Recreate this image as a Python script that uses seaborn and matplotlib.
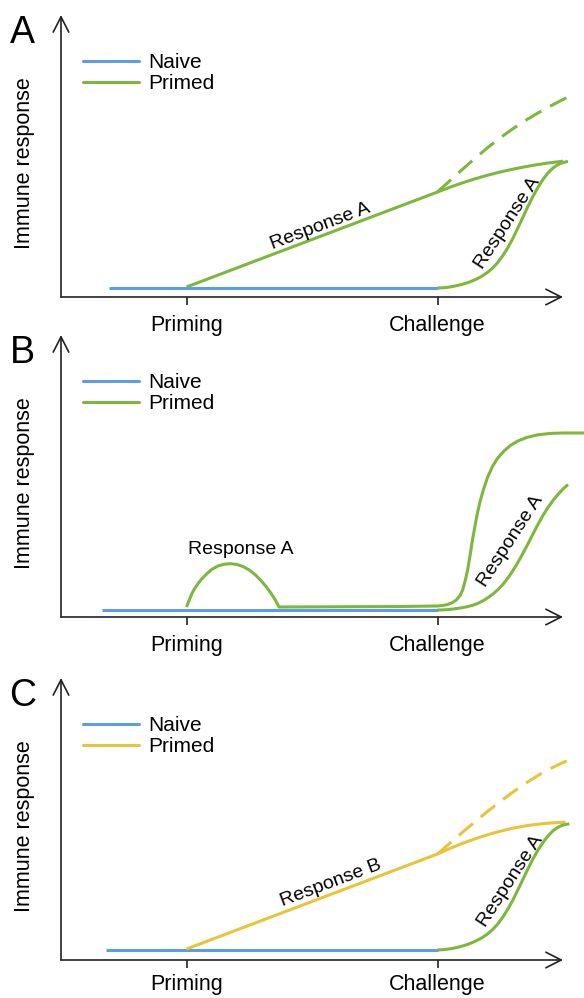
"""
Esquema de resposta imune: Naive vs Primed (paineis A, B, C)
"""

import numpy as np
import pandas as pd
import matplotlib
matplotlib.use("Agg")
import matplotlib.pyplot as plt
import seaborn as sns
from matplotlib.lines import Line2D

# ---- dados (x: 0 = eixo, 1 = Priming, 3 = Challenge) ----
tick_pos = [1, 3]
tick_labels = ["Priming", "Challenge"]
panel_letters = ["A", "B", "C"]
legend_labels = ["Naive", "Primed"]

# Painel A
a_naive_x = [0.38, 3.0]
a_naive_y = [0.09, 0.09]
a_primed_x = [1.0, 3.0, 3.1, 3.2, 3.3, 3.4, 3.5, 3.6, 3.7, 3.8, 3.9, 4.0]
a_primed_y = [0.10, 1.05, 1.098, 1.142, 1.182, 1.218, 1.250, 1.278, 1.303,
              1.325, 1.343, 1.358]
a_dash_x = [3.0, 3.1, 3.2, 3.3, 3.4, 3.5, 3.6, 3.7, 3.8, 3.9, 4.0, 4.04]
a_dash_y = [1.05, 1.165, 1.278, 1.388, 1.494, 1.592, 1.682, 1.765, 1.840,
            1.910, 1.975, 2.0]
a_resp_x = [3.00, 3.04, 3.08, 3.12, 3.16, 3.20, 3.24, 3.28, 3.32, 3.36,
            3.40, 3.44, 3.48, 3.52, 3.56, 3.60, 3.64, 3.68, 3.72, 3.76,
            3.80, 3.84, 3.88, 3.92, 3.96, 4.00, 4.04]
a_resp_y = [0.090, 0.092, 0.097, 0.105, 0.116, 0.128, 0.143, 0.162, 0.185,
            0.213, 0.248, 0.290, 0.345, 0.412, 0.492, 0.585, 0.690, 0.795,
            0.905, 1.005, 1.095, 1.175, 1.240, 1.290, 1.325, 1.345, 1.355]

# Painel B
b_naive_x = [0.33, 3.0]
b_naive_y = [0.075, 0.075]
b_primed_x = [1.000, 1.020, 1.040, 1.060, 1.090, 1.120, 1.160, 1.200, 1.250,
              1.300, 1.350, 1.400, 1.450, 1.500, 1.550, 1.600, 1.640, 1.680,
              1.710, 1.737, 2.70, 3.00, 3.04, 3.08, 3.12, 3.15, 3.18, 3.20,
              3.22, 3.24, 3.26, 3.28, 3.30, 3.32, 3.34, 3.37, 3.40, 3.44,
              3.48, 3.53, 3.58, 3.64, 3.71, 3.80, 3.90, 4.00, 4.17]
b_primed_y = [0.100, 0.165, 0.225, 0.275, 0.330, 0.380, 0.430, 0.475, 0.510,
              0.528, 0.533, 0.525, 0.505, 0.470, 0.420, 0.355, 0.295, 0.225,
              0.165, 0.100, 0.105, 0.110, 0.115, 0.125, 0.145, 0.170, 0.215,
              0.270, 0.360, 0.470, 0.620, 0.780, 0.920, 1.050, 1.160, 1.290,
              1.400, 1.510, 1.590, 1.660, 1.715, 1.760, 1.795, 1.822, 1.836,
              1.840, 1.840]
b_resp_x = [3.00, 3.04, 3.08, 3.12, 3.16, 3.20, 3.24, 3.28, 3.32, 3.36,
            3.40, 3.44, 3.48, 3.52, 3.56, 3.60, 3.64, 3.68, 3.72, 3.76,
            3.80, 3.84, 3.88, 3.92, 3.96, 4.00, 4.04]
b_resp_y = [0.070, 0.071, 0.074, 0.079, 0.086, 0.094, 0.104, 0.117, 0.135,
            0.160, 0.192, 0.228, 0.272, 0.324, 0.388, 0.462, 0.545, 0.635,
            0.730, 0.828, 0.925, 1.015, 1.095, 1.165, 1.225, 1.280, 1.325]

# Painel C
c_naive_x = [0.36, 3.0]
c_naive_y = [0.10, 0.10]
c_primed_x = [1.0, 3.0, 3.1, 3.2, 3.3, 3.4, 3.5, 3.6, 3.7, 3.8, 3.9, 4.02]
c_primed_y = [0.11, 1.06, 1.116, 1.167, 1.212, 1.253, 1.288, 1.318, 1.341,
              1.358, 1.370, 1.378]
c_dash_x = [3.0, 3.1, 3.2, 3.3, 3.4, 3.5, 3.6, 3.7, 3.8, 3.9, 4.0, 4.03]
c_dash_y = [1.06, 1.170, 1.278, 1.384, 1.487, 1.585, 1.678, 1.765, 1.845,
            1.915, 1.975, 1.99]
c_resp_x = [3.00, 3.04, 3.08, 3.12, 3.16, 3.20, 3.24, 3.28, 3.32, 3.36,
            3.40, 3.44, 3.48, 3.52, 3.56, 3.60, 3.64, 3.68, 3.72, 3.76,
            3.80, 3.84, 3.88, 3.92, 3.96, 4.00, 4.05]
c_resp_y = [0.100, 0.103, 0.108, 0.116, 0.127, 0.140, 0.156, 0.176, 0.199,
            0.227, 0.262, 0.305, 0.360, 0.428, 0.508, 0.598, 0.700, 0.805,
            0.910, 1.010, 1.098, 1.175, 1.240, 1.292, 1.328, 1.350, 1.362]

# ---- estilo ----
BLUE = "#5a9fe4"
GREEN = "#7cb83c"
YELLOW = "#e8c43a"
AXIS = "#222222"
LW = 2.2
DASH = (0, (6, 3.3))

sns.set_style("white")
plt.rcParams["font.family"] = ["Liberation Sans", "DejaVu Sans"]
plt.rcParams["text.color"] = "black"
plt.rcParams["axes.labelcolor"] = "black"

W, H = 584, 998
PX_X = 125.5   # pixels por unidade x
axis_px = [297, 617, 960]
tick_pad = [7, 7, 4]


def draw_curve(ax, xs, ys, color, ls="-"):
    df = pd.DataFrame({"x": xs, "y": ys})
    sns.lineplot(data=df, x="x", y="y", ax=ax, color=color, lw=LW,
                 linestyle=ls, estimator=None, sort=False,
                 solid_capstyle="butt", solid_joinstyle="round")


def setup_axes(ax, letter, primed_color, pad):
    ax.set_xlim(0, 523 / PX_X)
    ax.set_ylim(0, 2.9)
    ax.set_facecolor("none")
    for s in ax.spines.values():
        s.set_visible(False)
    ax.set_xticks(tick_pos)
    ax.set_xticklabels(tick_labels)
    ax.set_yticks([])
    ax.tick_params(axis="x", length=6, width=1.2, color=AXIS, pad=pad,
                   labelsize=15.5, labelcolor="black", bottom=True)
    ax.set_xlabel("")
    ax.set_ylabel("Immune response", fontsize=15.5, va="center")
    ax.yaxis.set_label_coords(-0.07, 0.46)

    arrow = dict(arrowstyle="->,head_length=0.55,head_width=0.28", lw=1.2,
                 color=AXIS, shrinkA=0, shrinkB=0, mutation_scale=20)
    ax.annotate("", xy=(0, 2.82), xytext=(0, 0), arrowprops=arrow)
    ax.annotate("", xy=(4.0, 0), xytext=(0, 0), arrowprops=arrow)

    ax.text(-0.073, 0.91, letter, transform=ax.transAxes, fontsize=27,
            ha="center", va="center")

    handles = [Line2D([], [], color=BLUE, lw=LW),
               Line2D([], [], color=primed_color, lw=LW)]
    ax.legend(handles, legend_labels, loc="upper left",
              bbox_to_anchor=(0.042, 0.84), frameon=False, fontsize=15,
              handlelength=2.67, handletextpad=0.48, labelspacing=0.1,
              borderpad=0, borderaxespad=0, labelcolor="black")


fig = plt.figure(figsize=(W / 100, H / 100), dpi=100)
axes = []
for i in range(3):
    bottom = 1 - axis_px[i] / H
    axes.append(fig.add_axes([61 / W, bottom, 523 / W, 290 / H]))

# Painel A
ax = axes[0]
draw_curve(ax, a_naive_x, a_naive_y, BLUE)
draw_curve(ax, a_primed_x, a_primed_y, GREEN)
draw_curve(ax, a_dash_x, a_dash_y, GREEN, DASH)
draw_curve(ax, a_resp_x, a_resp_y, GREEN)
setup_axes(ax, "A", GREEN, tick_pad[0])
ax.text(2.07, 0.71, "Response A", rotation=20.7, rotation_mode="anchor",
        ha="center", va="center", fontsize=14)
ax.text(3.56, 0.74, "Response A", rotation=57, rotation_mode="anchor",
        ha="center", va="center", fontsize=14)

# Painel B
ax = axes[1]
draw_curve(ax, b_naive_x, b_naive_y, BLUE)
draw_curve(ax, b_primed_x, b_primed_y, GREEN)
draw_curve(ax, b_resp_x, b_resp_y, GREEN)
setup_axes(ax, "B", GREEN, tick_pad[1])
ax.text(1.43, 0.67, "Response A", ha="center", va="center", fontsize=14)
ax.text(3.58, 0.76, "Response A", rotation=57, rotation_mode="anchor",
        ha="center", va="center", fontsize=14)

# Painel C
ax = axes[2]
draw_curve(ax, c_naive_x, c_naive_y, BLUE)
draw_curve(ax, c_primed_x, c_primed_y, YELLOW)
draw_curve(ax, c_dash_x, c_dash_y, YELLOW, DASH)
draw_curve(ax, c_resp_x, c_resp_y, GREEN)
setup_axes(ax, "C", YELLOW, tick_pad[2])
ax.text(2.15, 0.77, "Response B", rotation=20.7, rotation_mode="anchor",
        ha="center", va="center", fontsize=14)
ax.text(3.58, 0.79, "Response A", rotation=57, rotation_mode="anchor",
        ha="center", va="center", fontsize=14)

fig.savefig("out.png", dpi=100)
